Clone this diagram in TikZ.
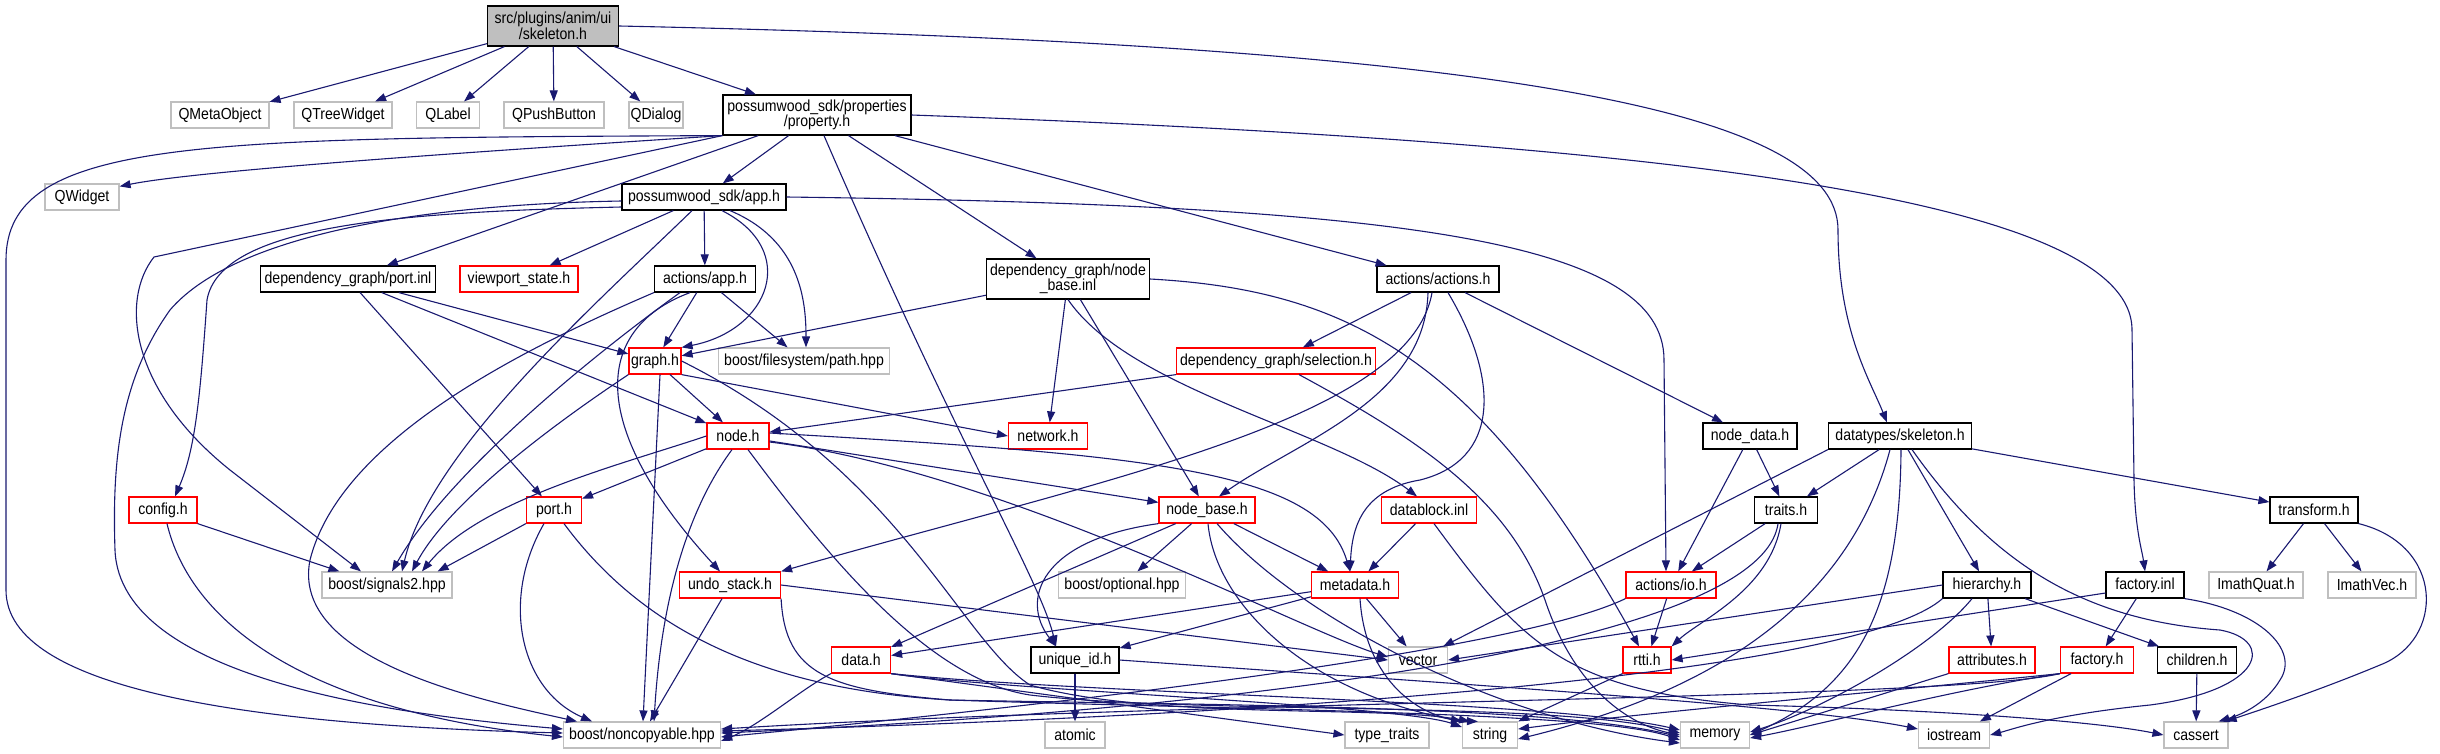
\documentclass[tikz,border=0pt]{standalone}
\usepackage{fontspec}
\setmainfont{Liberation Sans}[FakeStretch=0.88]
\usetikzlibrary{arrows.meta}
\definecolor{edgeblue}{RGB}{25,25,112}
\definecolor{boxgrey}{RGB}{191,191,191}

\begin{document}
\begin{tikzpicture}[x=1pt,y=-1pt,
    hd/.tip={Triangle[length=11pt,width=8pt]},
    file/.style={draw,line width=1.2pt,minimum height=26pt,inner sep=1pt,align=center,
        font=\fontsize{16}{15.5}\selectfont},
    hdr/.style={file,draw=black},
    trunc/.style={file,draw=red},
    sys/.style={file,draw=boxgrey},
    dep/.style={draw=edgeblue,line width=1.1pt,-hd},
]
    \useasboundingbox (0,0) rectangle (2440,753);

    % files
    \node[hdr,fill=boxgrey,minimum width=131pt,minimum height=40pt] (root) at (553,26) {src/plugins/anim/ui\\/skeleton.h};
    \node[sys,minimum width=98pt] (qmeta) at (220,115) {QMetaObject};
    \node[sys,minimum width=98pt] (qtree) at (343,115) {QTreeWidget};
    \node[sys,minimum width=63pt] (qlabel) at (448,115) {QLabel};
    \node[sys,minimum width=100pt] (qpush) at (554,115) {QPushButton};
    \node[sys,minimum width=54pt] (qdialog) at (656,115) {QDialog};
    \node[hdr,minimum width=188pt,minimum height=40pt] (prop) at (817,115) {possumwood\_sdk/properties\\/property.h};
    \node[sys,minimum width=74pt] (qwidget) at (82,197) {QWidget};
    \node[hdr,minimum width=164pt] (sdkapp) at (704,197) {possumwood\_sdk/app.h};
    \node[hdr,minimum width=175pt] (portinl) at (348,279) {dependency\_graph/port.inl};
    \node[trunc,minimum width=118pt] (viewport) at (519,279) {viewport\_state.h};
    \node[hdr,minimum width=101pt] (actapp) at (705,279) {actions/app.h};
    \node[hdr,minimum width=163pt,minimum height=40pt] (nbinl) at (1068,279) {dependency\_graph/node\\\_base.inl};
    \node[hdr,minimum width=122pt] (actions) at (1438,279) {actions/actions.h};
    \node[trunc,minimum width=52pt] (graphh) at (655,361) {graph.h};
    \node[sys,minimum width=171pt] (fspath) at (804,361) {boost/filesystem/path.hpp};
    \node[trunc,minimum width=199pt] (selection) at (1276,361) {dependency\_graph/selection.h};
    \node[trunc,minimum width=62pt] (nodeh) at (738,436) {node.h};
    \node[trunc,minimum width=79pt] (network) at (1048,436) {network.h};
    \node[hdr,minimum width=94pt] (nodedata) at (1750,436) {node\_data.h};
    \node[hdr,minimum width=143pt] (dtskel) at (1900,436) {datatypes/skeleton.h};
    \node[trunc,minimum width=68pt] (config) at (163,510) {config.h};
    \node[trunc,minimum width=55pt] (port) at (554,510) {port.h};
    \node[trunc,minimum width=96pt] (nodebase) at (1207,510) {node\_base.h};
    \node[trunc,minimum width=95pt] (datablock) at (1429,510) {datablock.inl};
    \node[hdr,minimum width=63pt] (traits) at (1786,510) {traits.h};
    \node[hdr,minimum width=88pt] (transform) at (2314,510) {transform.h};
    \node[sys,minimum width=130pt] (signals) at (387,585) {boost/signals2.hpp};
    \node[trunc,minimum width=101pt] (undo) at (730,585) {undo\_stack.h};
    \node[sys,minimum width=127pt] (optional) at (1122,585) {boost/optional.hpp};
    \node[trunc,minimum width=87pt] (metadata) at (1355,585) {metadata.h};
    \node[trunc,minimum width=90pt] (actio) at (1671,585) {actions/io.h};
    \node[hdr,minimum width=88pt] (hier) at (1987,585) {hierarchy.h};
    \node[hdr,minimum width=78pt] (factinl) at (2145,585) {factory.inl};
    \node[sys,minimum width=94pt] (imquat) at (2256,585) {ImathQuat.h};
    \node[sys,minimum width=88pt] (imvec) at (2372,585) {ImathVec.h};
    \node[trunc,minimum width=59pt] (data) at (861,660) {data.h};
    \node[hdr,minimum width=88pt] (uid) at (1075,660) {unique\_id.h};
    \node[sys,minimum width=59pt] (vector) at (1418,660) {vector};
    \node[trunc,minimum width=48pt] (rtti) at (1647,660) {rtti.h};
    \node[trunc,minimum width=86pt] (attrib) at (1992,660) {attributes.h};
    \node[trunc,minimum width=73pt] (facth) at (2097,660) {factory.h};
    \node[hdr,minimum width=79pt] (children) at (2197,660) {children.h};
    \node[sys,minimum width=157pt] (noncopy) at (642,735) {boost/noncopyable.hpp};
    \node[sys,minimum width=60pt] (atomic) at (1075,735) {atomic};
    \node[sys,minimum width=84pt] (typetr) at (1387,735) {type\_traits};
    \node[sys,minimum width=55pt] (string) at (1490,735) {string};
    \node[sys,minimum width=69pt] (memory) at (1715,735) {memory};
    \node[sys,minimum width=71pt] (iostream) at (1954,735) {iostream};
    \node[sys,minimum width=64pt] (cassert) at (2196,735) {cassert};

    % skeleton.h
    \draw[dep] (root) -- (qmeta);
    \draw[dep] (root) -- (qtree);
    \draw[dep] (root) -- (qlabel);
    \draw[dep] (root) -- (qpush);
    \draw[dep] (root) -- (qdialog);
    \draw[dep] (root) -- (prop);
    \draw[dep] (root.east) .. controls (1500,45) and (1838,110) .. (1838,230) .. controls (1838,330) and (1870,380) .. ([xshift=-13pt]dtskel.north);

    % property.h
    \draw[dep] (prop.south west) .. controls (500,150) and (200,170) .. ([yshift=-3pt]qwidget.north east);
    \draw[dep] (prop.south west) .. controls (200,138) and (6,138) .. (6,260) -- (6,590) .. controls (6,690) and (250,725) .. ([yshift=2pt]noncopy.west);
    \draw[dep] (prop.south west) -- (154,257) .. controls (120,300) and (130,390) .. (230,470) -- ([xshift=-26pt]signals.north);
    \draw[dep] (prop) -- (portinl);
    \draw[dep] (prop) -- (sdkapp);
    \draw[dep] (prop) -- (nbinl);
    \draw[dep] (prop) -- (actions);
    \draw[dep] ([xshift=7pt]prop.south) .. controls (960,450) and (1040,580) .. ([xshift=-19pt]uid.north);
    \draw[dep] (prop.east) .. controls (1600,140) and (2132,190) .. (2132,330) -- (2134,480) .. controls (2135,530) and (2142,550) .. (factinl.north);

    % possumwood_sdk/app.h
    \draw[dep] (sdkapp) -- (viewport);
    \draw[dep] (sdkapp) -- (actapp);
    \draw[dep] ([xshift=18pt]sdkapp.south) .. controls (800,250) and (770,330) .. (graphh.north east);
    \draw[dep] ([xshift=26pt]sdkapp.south) .. controls (800,240) and (806,300) .. ([xshift=2pt]fspath.north);
    \draw[dep] (sdkapp.east) .. controls (1400,205) and (1664,240) .. (1664,360) -- ([xshift=-5pt]actio.north);
    \draw[dep] ([yshift=-10pt]sdkapp.west) .. controls (400,212) and (220,225) .. (207,300) .. controls (200,400) and (195,450) .. ([xshift=12pt]config.north);
    \draw[dep] ([yshift=-4pt]sdkapp.west) .. controls (400,205) and (230,240) .. (170,310) .. controls (120,380) and (112,460) .. (115,550) .. controls (120,680) and (400,715) .. ([yshift=6pt]noncopy.west);
    \draw[dep] ([xshift=-12pt]sdkapp.south) .. controls (600,300) and (430,450) .. ([xshift=15pt]signals.north);

    % port.inl, actions/app.h, node_base.inl
    \draw[dep] (portinl) -- (port);
    \draw[dep] (portinl) -- (graphh);
    \draw[dep] (portinl) -- (nodeh);
    \draw[dep] (actapp) -- (graphh);
    \draw[dep] (actapp) -- (fspath);
    \draw[dep] ([xshift=-15pt]actapp.south) .. controls (590,330) and (590,430) .. ([xshift=-10pt]undo.north);
    \draw[dep] ([xshift=-25pt]actapp.south) .. controls (600,350) and (450,470) .. ([xshift=5pt]signals.north);
    \draw[dep] (actapp.south west) .. controls (520,350) and (340,440) .. (310,560) .. controls (290,660) and (480,700) .. ([xshift=-65pt]noncopy.north);
    \draw[dep] (nbinl) -- (graphh);
    \draw[dep] (nbinl) -- (network);
    \draw[dep] (nbinl) -- (nodebase);
    \draw[dep] (nbinl.south) .. controls (1130,390) and (1330,430) .. ([xshift=-12pt]datablock.north);
    \draw[dep] (nbinl.east) .. controls (1350,290) and (1480,360) .. ([xshift=-8pt]rtti.north);

    % actions/actions.h, selection.h
    \draw[dep] (actions) -- (selection);
    \draw[dep] (actions) -- (nodedata);
    \draw[dep] ([xshift=-10pt]actions.south) .. controls (1425,400) and (1300,440) .. ([xshift=12pt]nodebase.north);
    \draw[dep] ([xshift=-6pt]actions.south) .. controls (1410,420) and (1100,480) .. (undo.north east);
    \draw[dep] ([xshift=10pt]actions.south) .. controls (1500,380) and (1500,460) .. (1420,480) .. controls (1360,490) and (1352,530) .. ([xshift=-5pt]metadata.north);
    \draw[dep] (selection.south west) -- ([yshift=4pt]nodeh.east);
    \draw[dep] ([xshift=23pt]selection.south) .. controls (1420,440) and (1510,500) .. (1545,600) .. controls (1575,690) and (1630,725) .. (memory.west);

    % graph.h, node.h
    \draw[dep] (graphh) -- (nodeh);
    \draw[dep] (graphh.south east) -- (network.west);
    \draw[dep] (graphh.south west) .. controls (560,420) and (450,500) .. ([xshift=25pt]signals.north);
    \draw[dep] ([xshift=5pt]graphh.south) -- ([xshift=1pt]noncopy.north);
    \draw[dep] (graphh.east) .. controls (900,470) and (960,640) .. (1030,685) .. controls (1150,720) and (1380,705) .. ([xshift=8pt]string.north west);
    \draw[dep] (nodeh) -- (port);
    \draw[dep] (nodeh.west) .. controls (620,465) and (480,500) .. ([xshift=35pt]signals.north);
    \draw[dep] ([xshift=-6pt]nodeh.south) .. controls (680,520) and (660,620) .. ([xshift=12pt]noncopy.north);
    \draw[dep] (nodeh) -- (nodebase);
    \draw[dep] ([yshift=3pt]nodeh.east) .. controls (1150,455) and (1320,470) .. ([xshift=-5pt]metadata.north);
    \draw[dep] ([yshift=-6pt]nodeh.east) .. controls (1000,470) and (1300,630) .. ([yshift=3pt]vector.west);
    \draw[dep] ([xshift=10pt]nodeh.south) .. controls (830,560) and (930,680) .. (1030,695) .. controls (1200,715) and (1550,700) .. ([yshift=2pt]memory.west);

    % port.h, config.h, undo_stack.h
    \draw[dep] (port.south west) -- ([xshift=-15pt]signals.north east);
    \draw[dep] ([xshift=-10pt]port.south) .. controls (500,600) and (520,690) .. ([xshift=-50pt]noncopy.north);
    \draw[dep] ([xshift=10pt]port.south) .. controls (650,640) and (780,690) .. (950,700) .. controls (1200,705) and (1550,705) .. ([yshift=-2pt]memory.west);
    \draw[dep] (config.south east) -- ([xshift=18pt]signals.north west);
    \draw[dep] ([xshift=4pt]config.south) .. controls (190,620) and (300,710) .. ([yshift=-2pt]noncopy.west);
    \draw[dep] (undo) -- (noncopy);
    \draw[dep] (undo.east) -- (vector.west);
    \draw[dep] (undo.south east) .. controls (785,675) and (830,690) .. (950,700) .. controls (1250,710) and (1600,712) .. ([yshift=-5pt]memory.west);

    % node_base.h, metadata.h, datablock.inl
    \draw[dep] (nodebase) -- (optional);
    \draw[dep] (nodebase) -- (metadata);
    \draw[dep] (nodebase) -- (data);
    \draw[dep] (nodebase.south west) .. controls (1040,540) and (1020,600) .. ([xshift=-19pt]uid.north);
    \draw[dep] ([xshift=1pt]nodebase.south) .. controls (1215,600) and (1300,690) .. (string.north west);
    \draw[dep] ([xshift=10pt]nodebase.south) .. controls (1300,620) and (1500,720) .. ([yshift=-8pt]memory.west);
    \draw[dep] (metadata) -- (data);
    \draw[dep] (metadata) -- (uid);
    \draw[dep] (metadata) -- (vector);
    \draw[dep] ([xshift=5pt]metadata.south) .. controls (1365,680) and (1420,720) .. ([xshift=16pt]string.north west);
    \draw[dep] (datablock) -- (metadata);
    \draw[dep] ([xshift=5pt]datablock.south) .. controls (1520,640) and (1560,690) .. (1750,705) .. controls (1950,710) and (2100,722) .. (cassert.west);

    % data.h, unique_id.h
    \draw[dep] (data.south west) .. controls (800,690) and (760,725) .. ([yshift=-6pt]noncopy.east);
    \draw[dep] (data.south east) -- (typetr.west);
    \draw[dep] (data.south east) .. controls (1000,690) and (1400,705) .. ([yshift=8pt]string.west);
    \draw[dep] (data.south east) .. controls (1100,695) and (1550,700) .. ([yshift=5pt]memory.west);
    \draw[dep] (uid) -- (atomic);
    \draw[dep] (uid.east) .. controls (1400,680) and (1800,705) .. ([yshift=6pt]iostream.west);

    % io.h, node_data.h, traits.h
    \draw[dep] (actio) -- (rtti);
    \draw[dep] (actio.south west) .. controls (1500,660) and (900,720) .. ([yshift=-2pt]noncopy.east);
    \draw[dep] (nodedata) -- (actio);
    \draw[dep] (nodedata) -- (traits);
    \draw[dep] (traits) -- (actio);
    \draw[dep] ([xshift=-5pt]traits.south) .. controls (1770,590) and (1700,620) .. (rtti.north east);
    \draw[dep] ([xshift=-8pt]traits.south) .. controls (1760,650) and (1200,712) .. ([yshift=2pt]noncopy.east);

    % datatypes/skeleton.h
    \draw[dep] (dtskel.south west) -- ([xshift=-5pt]vector.north east);
    \draw[dep] (dtskel) -- (traits);
    \draw[dep] ([xshift=-10pt]dtskel.south) .. controls (1850,600) and (1720,690) .. ([yshift=-4pt]string.east);
    \draw[dep] ([xshift=1pt]dtskel.south) .. controls (1900,620) and (1850,690) .. (memory.east);
    \draw[dep] (dtskel) -- (hier);
    \draw[dep] ([xshift=12pt]dtskel.south) .. controls (1990,560) and (2080,620) .. (2220,630) .. controls (2275,640) and (2265,690) .. (2150,705) .. controls (2050,715) and (2010,730) .. (iostream.east);
    \draw[dep] (dtskel) -- (transform);

    % hierarchy.h, factory.inl, factory.h
    \draw[dep] (hier.west) -- (vector.east);
    \draw[dep] (hier) -- (attrib);
    \draw[dep] (hier) -- (children);
    \draw[dep] ([xshift=-15pt]hier.south) .. controls (1930,650) and (1820,710) .. ([yshift=3pt]memory.east);
    \draw[dep] (hier.south west) .. controls (1850,680) and (1200,718) .. ([yshift=4pt]noncopy.east);
    \draw[dep] ([yshift=-8pt]factinl.west) -- (rtti.east);
    \draw[dep] (factinl) -- (facth);
    \draw[dep] (factinl.south east) .. controls (2260,610) and (2300,650) .. (2280,680) .. controls (2265,705) and (2240,715) .. ([xshift=-10pt]cassert.north east);
    \draw[dep] (facth) -- (iostream);
    \draw[dep] (facth.south west) .. controls (1950,690) and (1820,725) .. ([yshift=-3pt]memory.east);
    \draw[dep] (facth.south west) .. controls (1900,690) and (1650,712) .. ([yshift=6pt]string.east);
    \draw[dep] (facth.south west) .. controls (1950,700) and (1200,700) .. ([yshift=6pt]noncopy.east);
    \draw[dep] (attrib.south west) -- (memory.east);
    \draw[dep] (children) -- (cassert);
    \draw[dep] (rtti.south west) -- (string.north east);

    % transform.h
    \draw[dep] (transform) -- (imquat);
    \draw[dep] (transform) -- (imvec);
    \draw[dep] (transform.south east) .. controls (2445,545) and (2445,640) .. (2380,665) .. controls (2320,690) and (2260,710) .. ([xshift=-3pt]cassert.north east);
\end{tikzpicture}
\end{document}
